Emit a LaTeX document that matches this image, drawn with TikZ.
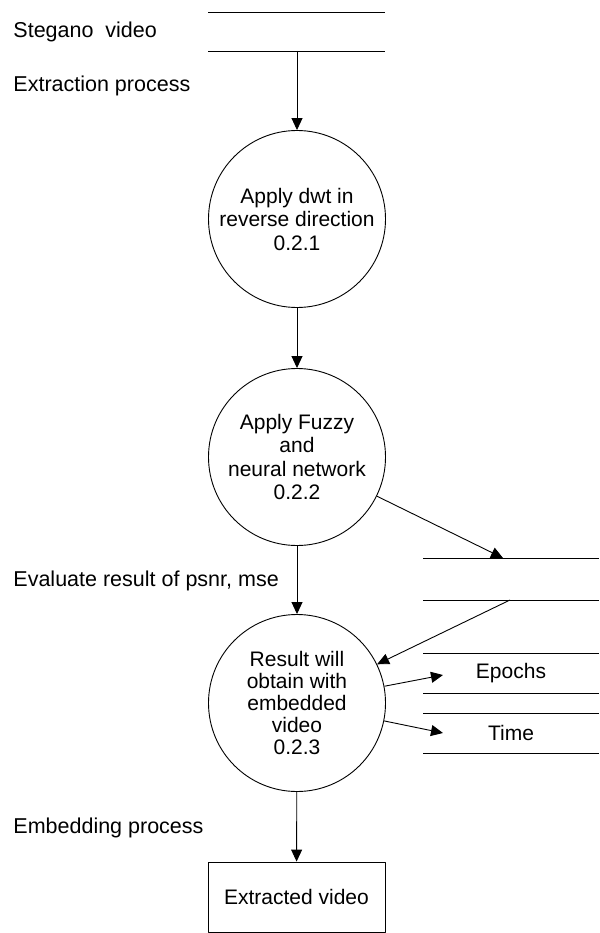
\documentclass[tikz,border=0pt]{standalone}
\usepackage{fontspec}
\setmainfont{Liberation Sans}
\usetikzlibrary{arrows.meta}
\tikzset{
  proc/.style={draw, circle, minimum size=177pt, inner sep=0pt, align=center},
  lbl/.style={anchor=west, inner sep=0pt, font=\fontsize{21.5}{24}\selectfont},
}
\begin{document}
\begin{tikzpicture}[x=1pt, y=-1pt, >={Triangle[length=12pt, width=11pt]}, line join=round, line width=0.9pt, font=\fontsize{21}{23.5}\selectfont]
			\useasboundingbox (0,0) rectangle (599,933);
			% processes
			\path (297,219) node[proc] (c1) {Apply dwt in\\reverse direction\\0.2.1}
			(297,457) node[proc] (c2) {Apply Fuzzy\\and\\neural network\\0.2.2}
			(297,703) node[proc, font=\fontsize{21}{22}\selectfont] (c3) {Result will\\obtain with\\embedded\\video\\0.2.3}
			(296.5,897) node[draw, minimum width=177pt, minimum height=70pt, inner sep=0pt] (out) {Extracted video}
			;
			% stores
			\path (297,51) coordinate (s1)
			(503,558) coordinate (s2top)
			(510,600) coordinate (s2foot)
			(443,675) coordinate (ep)
			(443,733) coordinate (tm)
			;
			\foreach \y in {12,51}{
				\draw (208,\y) -- (385,\y);
			}
			\foreach \y in {558,600,653,693,713,753}{
				\draw (423,\y) -- (599,\y);
			}
			\node (epochs) at (511,673) {Epochs};
			\node (time) at (511,733) {Time};
			% side labels
			\node[lbl] (steg) at (13,32) {Stegano\ \ video};
			\node[lbl] (extr) at (13,86) {Extraction process};
			\node[lbl] (eval) at (13,581) {Evaluate result of psnr, mse};
			\node[lbl] (emb) at (13,828) {Embedding process};
			% flows
			\draw[->] (s1) -- (c1);
			\draw[->] (c1) -- (c2);
			\draw[->] (c2) -- (c3);
			\draw[->] (c3) -- (out);
			\draw[->] (c2) -- (s2top);
			\draw[->] (s2foot) -- (c3);
			\draw[->] (c3) -- (ep);
			\draw[->] (c3) -- (tm);
		\end{tikzpicture}
\end{document}
